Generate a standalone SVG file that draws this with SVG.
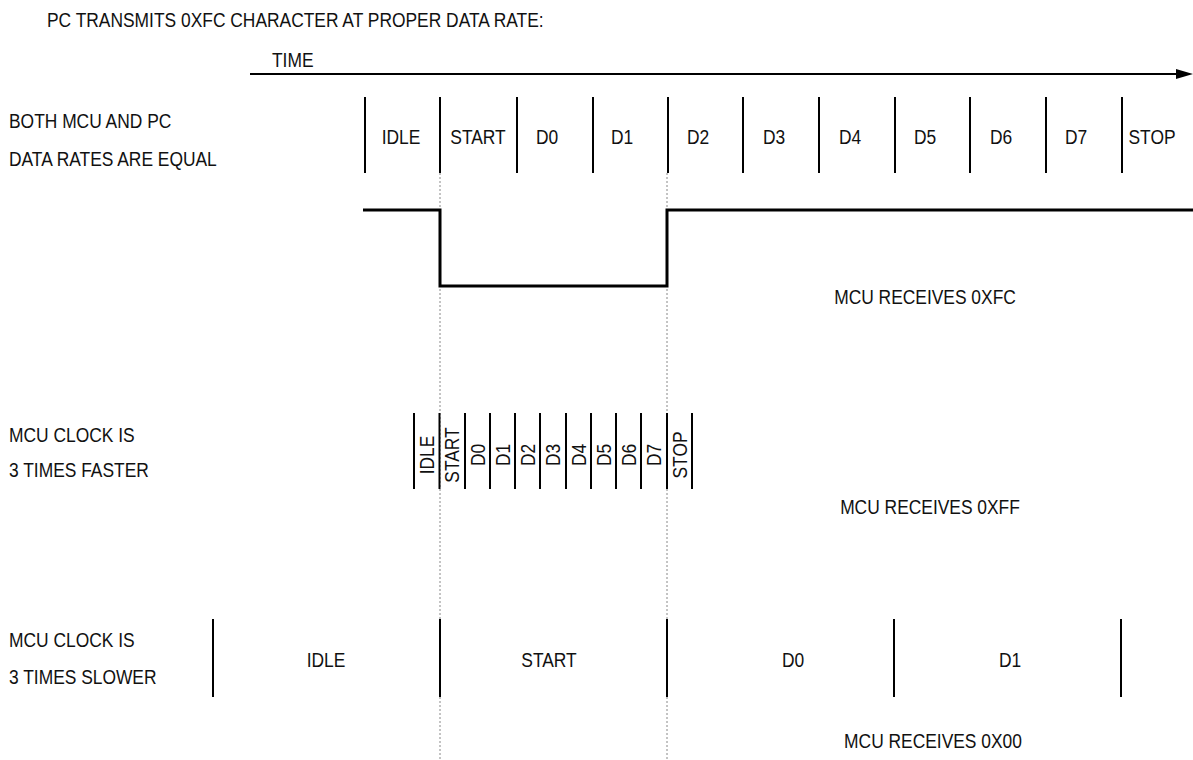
<svg xmlns="http://www.w3.org/2000/svg" width="1193" height="760" viewBox="0 0 1193 760">
<style>
text{font-family:"Liberation Sans",Arial,sans-serif;font-size:20px;fill:#111}
.c{text-anchor:middle}
.tick{stroke:#000;stroke-width:2;fill:none}
.wave{stroke:#000;stroke-width:3;fill:none}
.guide{stroke:#888;stroke-width:1;stroke-dasharray:2 2;fill:none}
</style>
<rect width="1193" height="760" fill="#fff"/>
<g id="guides">
<line class="guide" x1="440" y1="173" x2="440" y2="760"/>
<line class="guide" x1="667" y1="173" x2="667" y2="760"/>
</g>
<g id="header">
<text transform="translate(47,27) scale(.87,1)">PC TRANSMITS 0XFC CHARACTER AT PROPER DATA RATE:</text>
<text transform="translate(272,67) scale(.87,1)">TIME</text>
<line x1="250" y1="74" x2="1178" y2="74" stroke="#000" stroke-width="2"/>
<polygon points="1176,69 1193,74 1176,79" fill="#000"/>
</g>
<g id="row1">
<text transform="translate(9,128) scale(.87,1)">BOTH MCU AND PC</text>
<text transform="translate(9,166) scale(.87,1)">DATA RATES ARE EQUAL</text>
<g class="tick">
<line x1="365" y1="97" x2="365" y2="173"/><line x1="440" y1="97" x2="440" y2="173"/>
<line x1="517" y1="97" x2="517" y2="173"/><line x1="593" y1="97" x2="593" y2="173"/>
<line x1="668" y1="97" x2="668" y2="173"/><line x1="743" y1="97" x2="743" y2="173"/>
<line x1="819" y1="97" x2="819" y2="173"/><line x1="895" y1="97" x2="895" y2="173"/>
<line x1="970" y1="97" x2="970" y2="173"/><line x1="1046" y1="97" x2="1046" y2="173"/>
<line x1="1122" y1="97" x2="1122" y2="173"/>
</g>
<text class="c" transform="translate(401,144) scale(.87,1)">IDLE</text>
<text class="c" transform="translate(478,144) scale(.87,1)">START</text>
<text class="c" transform="translate(547,144) scale(.87,1)">D0</text>
<text class="c" transform="translate(622,144) scale(.87,1)">D1</text>
<text class="c" transform="translate(698,144) scale(.87,1)">D2</text>
<text class="c" transform="translate(774,144) scale(.87,1)">D3</text>
<text class="c" transform="translate(850,144) scale(.87,1)">D4</text>
<text class="c" transform="translate(925,144) scale(.87,1)">D5</text>
<text class="c" transform="translate(1001,144) scale(.87,1)">D6</text>
<text class="c" transform="translate(1076,144) scale(.87,1)">D7</text>
<text class="c" transform="translate(1152,144) scale(.87,1)">STOP</text>
<path class="wave" d="M363,210 H440 V286 H667 V210 H1193"/>
<text class="c" transform="translate(925,304) scale(.87,1)">MCU RECEIVES 0XFC</text>
</g>
<g id="row2">
<text transform="translate(9,442) scale(.87,1)">MCU CLOCK IS</text>
<text transform="translate(9,477) scale(.87,1)">3 TIMES FASTER</text>
<g class="tick">
<line x1="414" y1="413" x2="414" y2="489"/><line x1="439.5" y1="413" x2="439.5" y2="489"/>
<line x1="465" y1="413" x2="465" y2="489"/><line x1="490" y1="413" x2="490" y2="489"/>
<line x1="515" y1="413" x2="515" y2="489"/><line x1="540" y1="413" x2="540" y2="489"/>
<line x1="566" y1="413" x2="566" y2="489"/><line x1="591" y1="413" x2="591" y2="489"/>
<line x1="616" y1="413" x2="616" y2="489"/><line x1="641" y1="413" x2="641" y2="489"/>
<line x1="667" y1="413" x2="667" y2="489"/><line x1="692" y1="413" x2="692" y2="489"/>
</g>
<text class="c" transform="translate(434,455) rotate(-90) scale(.87,1)">IDLE</text>
<text class="c" transform="translate(459,455) rotate(-90) scale(.87,1)">START</text>
<text class="c" transform="translate(485,455) rotate(-90) scale(.87,1)">D0</text>
<text class="c" transform="translate(510,455) rotate(-90) scale(.87,1)">D1</text>
<text class="c" transform="translate(535,455) rotate(-90) scale(.87,1)">D2</text>
<text class="c" transform="translate(560,455) rotate(-90) scale(.87,1)">D3</text>
<text class="c" transform="translate(586,455) rotate(-90) scale(.87,1)">D4</text>
<text class="c" transform="translate(611,455) rotate(-90) scale(.87,1)">D5</text>
<text class="c" transform="translate(636,455) rotate(-90) scale(.87,1)">D6</text>
<text class="c" transform="translate(661,455) rotate(-90) scale(.87,1)">D7</text>
<text class="c" transform="translate(687,455) rotate(-90) scale(.87,1)">STOP</text>
<text class="c" transform="translate(930,514) scale(.87,1)">MCU RECEIVES 0XFF</text>
</g>
<g id="row3">
<text transform="translate(9,647) scale(.87,1)">MCU CLOCK IS</text>
<text transform="translate(9,684) scale(.87,1)">3 TIMES SLOWER</text>
<g class="tick">
<line x1="213" y1="619" x2="213" y2="697"/><line x1="440" y1="619" x2="440" y2="697"/>
<line x1="667" y1="619" x2="667" y2="697"/><line x1="894" y1="619" x2="894" y2="697"/>
<line x1="1121" y1="619" x2="1121" y2="697"/>
</g>
<text class="c" transform="translate(326,667) scale(.87,1)">IDLE</text>
<text class="c" transform="translate(549,667) scale(.87,1)">START</text>
<text class="c" transform="translate(793,667) scale(.87,1)">D0</text>
<text class="c" transform="translate(1010,667) scale(.87,1)">D1</text>
<text class="c" transform="translate(933,748) scale(.87,1)">MCU RECEIVES 0X00</text>
</g>
</svg>
